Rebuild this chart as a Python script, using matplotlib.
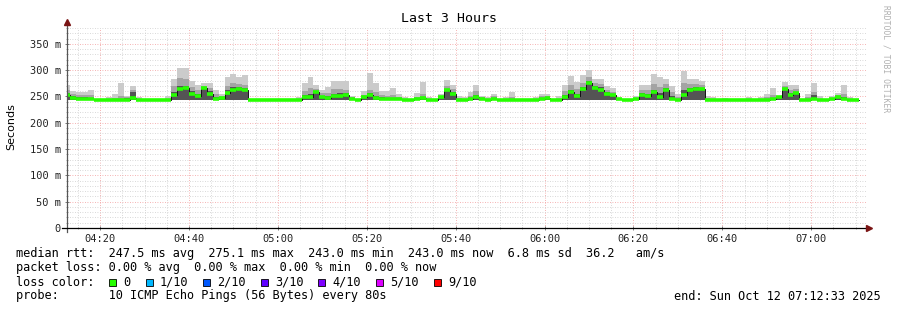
import matplotlib
matplotlib.use('Agg')
import matplotlib.pyplot as plt
import numpy as np
from matplotlib.ticker import MultipleLocator, FuncFormatter
from matplotlib.patches import Rectangle

# time axis: 80 s steps, first step starts 04:12:00, view 04:12:33 - 07:12:33
start_min = 4 * 60 + 12
step_min = 80 / 60
view_start = 4 * 60 + 12 + 33 / 60
view_end = 7 * 60 + 12 + 33 / 60

# per-step values in ms
rtt_median = [252, 247, 246, 246, 245, 243, 243, 243, 243, 243,
              244, 247, 243, 243, 243, 243, 243, 243, 252, 264,
              266, 254, 250, 266, 255, 245, 247, 256, 263, 265,
              263, 243, 243, 243, 243, 243, 243, 243, 243, 243,
              249, 248, 258, 248, 247, 251, 251, 253, 246, 243,
              248, 253, 246.5, 246, 246, 245, 245, 244, 243, 245,
              246.5, 244, 243, 248, 262, 255, 244, 244, 245, 248,
              246, 244, 245, 243, 243, 244, 243, 243, 243, 243,
              245, 246.5, 243, 244, 248, 258, 251, 264, 276, 266,
              263, 255, 253, 245, 243, 243, 245, 253, 251, 258,
              248, 263, 246, 244, 253, 263, 264, 264, 244, 244,
              243, 243, 243, 243, 243, 243, 243, 243, 243, 245,
              248, 264, 253, 256, 243, 243, 245, 243, 243, 245,
              248, 245, 243, 243]
rtt_max = [272, 260, 259, 258, 262, 243, 243, 248, 255, 276,
           250, 269, 248, 246, 243, 243, 243, 250, 283, 304,
           304, 280, 271, 275, 275, 263, 254, 286, 293, 286,
           290, 243, 243, 243, 243, 243, 243, 243, 243, 248,
           275, 286, 272, 263, 267, 280, 279, 279, 251, 243,
           260, 295, 275, 260, 260, 266, 254, 249, 243, 257,
           277, 249, 243, 255, 281, 272, 251, 249, 258, 272,
           251, 249, 255, 243, 249, 258, 243, 243, 243, 249,
           255, 254, 243, 250, 272, 289, 277, 290, 300, 284,
           284, 270, 266, 246, 243, 243, 251, 271, 272, 293,
           286, 284, 270, 254, 299, 284, 284, 280, 251, 249,
           243, 247, 243, 246, 243, 249, 243, 249, 255, 266,
           251, 277, 272, 272, 243, 255, 276, 251, 243, 251,
           257, 272, 249, 243]
rtt_mid = [262, 255, 252, 252, 252, 243, 243, 244, 247, 250,
           248, 262, 245, 243, 243, 243, 243, 246, 270, 285,
           283, 268, 262, 270, 266, 254, 250, 270, 276, 274,
           272, 243, 243, 243, 243, 243, 243, 243, 243, 245,
           260, 266, 265, 256, 257, 265, 265, 263, 249, 243,
           252, 262, 258, 252, 250, 252, 249, 246, 243, 249,
           255, 246, 243, 251, 270, 264, 247, 246, 250, 260,
           249, 246, 250, 243, 245, 248, 243, 243, 243, 245,
           250, 250, 243, 246, 260, 272, 264, 276, 286, 275,
           274, 263, 259, 245, 243, 243, 247, 262, 262, 274,
           268, 273, 258, 248, 275, 273, 274, 272, 247, 246,
           243, 244, 243, 244, 243, 245, 243, 245, 248, 253,
           250, 270, 262, 264, 243, 248, 258, 246, 243, 247,
           252, 255, 245, 243]
rtt_dark = [256, 250, 249, 248, 247, 243, 243, 243, 243, 244,
            247, 258, 243, 243, 243, 243, 243, 244, 258, 270,
            270, 260, 255, 268, 260, 249, 248, 262, 268, 268,
            266, 243, 243, 243, 243, 243, 243, 243, 243, 243,
            252, 254, 261, 251, 250, 255, 256, 256, 247, 243,
            249, 257, 250, 248, 247, 247, 246, 244, 243, 246,
            248, 244, 243, 249, 265, 258, 245, 244, 246, 252,
            247, 244, 246, 243, 243, 245, 243, 243, 243, 243,
            247, 248, 243, 244, 252, 262, 255, 268, 280, 270,
            267, 258, 255, 245, 243, 243, 245, 256, 254, 262,
            256, 266, 250, 245, 262, 266, 267, 266, 245, 244,
            243, 243, 243, 243, 243, 243, 243, 243, 244, 247,
            249, 266, 256, 258, 243, 244, 252, 244, 243, 245,
            249, 248, 244, 243]
rtt_min = [243.0] * len(rtt_median)

loss_labels = ['0', '1/10', '2/10', '3/10', '4/10', '5/10', '9/10']
loss_colors = ['#26ff00', '#00b8ff', '#0059ff', '#5e00ff', '#7e00ff', '#dd00ff', '#ff0000']

n = len(rtt_median)
edges = start_min + step_min * np.arange(n + 1)


def ext(a):
    return np.append(a, a[-1])


mono = 'DejaVu Sans Mono'
W, H = 897, 310
fs = 8.55
fig = plt.figure(figsize=(W / 100, H / 100), dpi=100)
ax = fig.add_axes([67 / W, 82 / H, 800 / W, 200 / H])

# smoke
ax.fill_between(edges, ext(rtt_min), ext(rtt_max), step='post', color='#cbcbcb', lw=0, zorder=2)
ax.fill_between(edges, ext(rtt_min), ext(rtt_mid), step='post', color='#a4a4a4', lw=0, zorder=2)
ax.fill_between(edges, ext(rtt_min), ext(rtt_dark), step='post', color='#545454', lw=0, zorder=2)
# median
ax.step(edges, ext(rtt_median), where='post', color='#111111', lw=0.7, zorder=3)
ax.hlines(rtt_median, edges[:-1], edges[1:], color=loss_colors[0], lw=2.6, zorder=4)

ax.set_xlim(view_start, view_end)
ax.set_ylim(0, 380)

ax.xaxis.set_major_locator(MultipleLocator(20))
ax.xaxis.set_minor_locator(MultipleLocator(5))
ax.yaxis.set_major_locator(MultipleLocator(50))
ax.yaxis.set_minor_locator(MultipleLocator(10))
ax.xaxis.set_major_formatter(FuncFormatter(lambda v, p: '%02d:%02d' % (int(v // 60), int(round(v % 60)))))
ax.yaxis.set_major_formatter(FuncFormatter(lambda v, p: '0' if v == 0 else '%d m' % v))

ax.grid(which='minor', color='#cccccc', ls=(0, (1, 2)), lw=0.6, zorder=0)
ax.grid(which='major', color='#f29a9a', ls=(0, (1, 2)), lw=0.6, zorder=1)
ax.set_axisbelow(True)

ax.tick_params(which='major', length=3, width=0.6, color='#666666', direction='inout',
               labelsize=7.5, labelcolor='#222222', pad=3)
ax.tick_params(which='minor', length=2, width=0.5, color='#888888', direction='inout')
for lab in ax.get_xticklabels() + ax.get_yticklabels():
    lab.set_family(mono)

for s in ax.spines.values():
    s.set_visible(False)
# axes with arrows
ax.plot([0, 0], [-0.02, 1.025], color='#555555', lw=0.9, transform=ax.transAxes, clip_on=False, zorder=5)
ax.plot([-0.006, 1.0], [0, 0], color='#000000', lw=0.9, transform=ax.transAxes, clip_on=False, zorder=5)
ax.plot([0], [1.03], marker='^', ms=4, color='#7a1414', transform=ax.transAxes, clip_on=False, zorder=6)
ax.plot([1.003], [0], marker='>', ms=4, color='#7a1414', transform=ax.transAxes, clip_on=False, zorder=6)

fig.text(0.5, 1 - 19 / H, 'Last 3 Hours', ha='center', va='center', family=mono, fontsize=9.5)
fig.text(11 / W, 1 - 127 / H, 'Seconds', rotation=90, ha='center', va='center', fontsize=8)
fig.text(886 / W, 1 - 59 / H, 'RRDTOOL / TOBI OETIKER', rotation=270, ha='center', va='center',
         family=mono, fontsize=5.8, color='#b0b0b0')

tx = 16 / W
fig.text(tx, 1 - 254 / H, 'median rtt:  247.5 ms avg  275.1 ms max  243.0 ms min  243.0 ms now  6.8 ms sd  36.2   am/s',
         family=mono, fontsize=fs, va='center')
fig.text(tx, 1 - 268 / H, 'packet loss: 0.00 % avg  0.00 % max  0.00 % min  0.00 % now',
         family=mono, fontsize=fs, va='center')
fig.text(tx, 1 - 282 / H, 'loss color:', family=mono, fontsize=fs, va='center')
fig.text(tx, 1 - 296 / H, 'probe:       10 ICMP Echo Pings (56 Bytes) every 80s',
         family=mono, fontsize=fs, va='center')
fig.text(881 / W, 1 - 296 / H, 'end: Sun Oct 12 07:12:33 2025', family=mono, fontsize=fs,
         va='center', ha='right')

sq_x = [109, 146, 203, 261, 318, 376, 434]
for x0, lab, col in zip(sq_x, loss_labels, loss_colors):
    fig.patches.append(Rectangle((x0 / W, (H - 286) / H), 7 / W, 7 / H, transform=fig.transFigure,
                                 facecolor=col, edgecolor='#000000', lw=0.6))
    fig.text((x0 + 14) / W, 1 - 282 / H, lab, family=mono, fontsize=fs, va='center')

fig.savefig('out.png', dpi=100, facecolor='white')
